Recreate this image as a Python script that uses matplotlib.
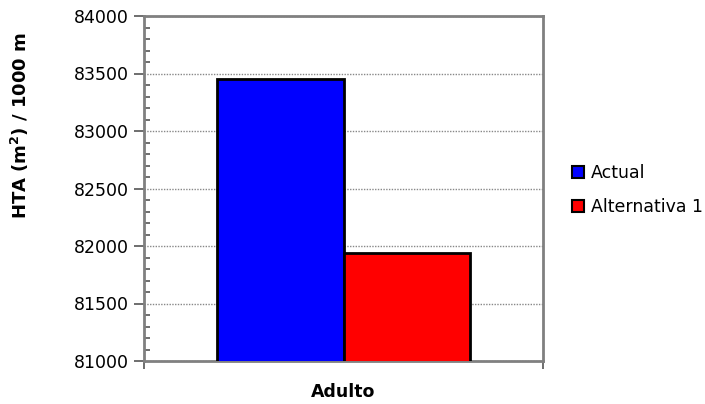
import matplotlib
matplotlib.use("Agg")
import matplotlib.pyplot as plt
from matplotlib.ticker import MultipleLocator
from matplotlib.lines import Line2D

categories = ["Adulto"]
series_names = ["Actual", "Alternativa 1"]
series_values = [[83450], [81935]]
series_colors = ["#0000ff", "#ff0000"]
y_ticks = [81000, 81500, 82000, 82500, 83000, 83500, 84000]

W, H = 705, 404
fig = plt.figure(figsize=(W / 100, H / 100), dpi=100)
ax = fig.add_axes([144 / W, 1 - 361 / H, (543 - 144) / W, (361 - 16) / H])

bar_w = 0.316
offsets = [-bar_w / 2, bar_w / 2]
for name, vals, col, off in zip(series_names, series_values, series_colors, offsets):
    ax.bar([i + off for i in range(len(categories))], vals, width=bar_w,
           color=col, edgecolor="black", linewidth=2, zorder=3, label=name)

ax.set_xlim(-0.5, len(categories) - 0.5)
ax.set_ylim(y_ticks[0], y_ticks[-1])
ax.set_yticks(y_ticks)
ax.yaxis.set_minor_locator(MultipleLocator(100))
ax.set_xticks([-0.5, 0.5])
ax.set_xticklabels([])
ax.tick_params(axis="y", which="major", direction="out", length=7, width=1.2,
               color="#555555", labelsize=12.5, pad=4)
ax.tick_params(axis="y", which="minor", direction="in", length=4, width=1.2,
               color="#555555")
ax.tick_params(axis="x", which="major", direction="out", length=6, width=1.2,
               color="#555555")

ax.grid(axis="y", which="major", linestyle=(0, (1, 1)), color="#888888",
        linewidth=1, zorder=0)
for s in ax.spines.values():
    s.set_color("#808080")
    s.set_linewidth(2)

for i, c in enumerate(categories):
    fig.text((144 + (543 - 144) * (i + 0.5) / len(categories)) / W, 1 - 392 / H, c,
             ha="center", va="center", fontsize=12.5, fontweight="bold")

fig.text(20 / W, 1 - 125 / H, "HTA (m$^\\mathbf{2}$) / 1000 m", rotation=90,
         ha="center", va="center", fontsize=13, fontweight="bold")

handles = [Line2D([], [], marker="s", linestyle="none", markersize=8,
                  markerfacecolor=c, markeredgecolor="black", markeredgewidth=1.5)
           for c in series_colors]
fig.legend(handles, series_names, loc="upper left",
           bbox_to_anchor=(568 / W, 1 - 164 / H), frameon=False, fontsize=12.5,
           borderpad=0, borderaxespad=0, handletextpad=0.1, labelspacing=0.95,
           handlelength=1.2)

fig.savefig("out.png", dpi=100)
